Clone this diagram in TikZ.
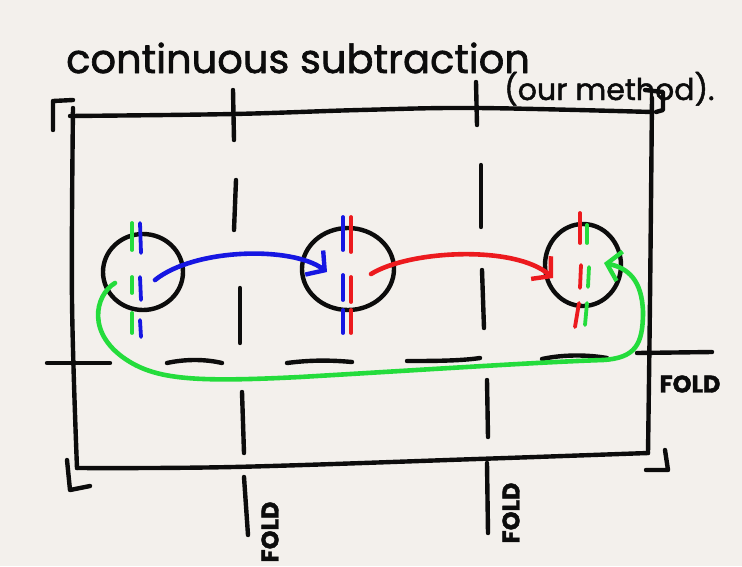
\documentclass[tikz,border=0pt]{standalone}
\usepackage{fontspec}
\setmainfont{Poppins}
\newfontfamily\hand{Poppins}[FakeBold=1.6]
\usetikzlibrary{arrows.meta,shapes.geometric}
\definecolor{paper}{HTML}{F3F0EC}
\definecolor{ink}{HTML}{0C0C0C}
\definecolor{inkblue}{HTML}{1616E2}
\definecolor{inkred}{HTML}{EC1A1E}
\definecolor{inkgreen}{HTML}{24DC3C}
\begin{document}
\begin{tikzpicture}[x=1pt,y=-1pt,line cap=round,line join=round,
  pen/.style={draw=ink,line width=4.4pt},
  cpen/.style={line width=3.8pt},
  ring/.style={ellipse,draw=ink,line width=4.4pt,inner sep=0pt},
  barb/.style={-{Straight Barb[length=13pt,width=30pt,line width=4.4pt]}},
  label/.style={text=ink,inner sep=0pt},
  foldlbl/.style={text=ink,inner sep=0pt,font=\hand\fontsize{24}{26}\selectfont\bfseries}]
\fill[paper] (0,0) rectangle (742,566);
\useasboundingbox (0,0) rectangle (742,566);

% titles
\node[label,anchor=base west,font=\hand\fontsize{40}{44}\selectfont] (title) at (66,73) {continuous subtraction};
\node[label,anchor=base west,font=\hand\fontsize{30}{34}\selectfont] (sub) at (504,100) {(our method).};

% sheet
\draw[pen] plot[smooth,tension=0.6] coordinates {(70,116) (233,114) (360,110) (477,108) (652,112)};
\draw[pen] plot[smooth,tension=0.6] coordinates {(73,108) (72,300) (77,468)};
\draw[pen] plot[smooth,tension=0.6] coordinates {(77,468) (233,467) (477,459) (648,453)};
\draw[pen] plot[smooth,tension=0.6] coordinates {(652,98) (650,300) (648,453)};
% corner marks
\draw[pen] (53,130) -- (53,101) -- (73,100);
\draw[pen] (645,90) -- (663,92) -- (663,110) -- (656,112);
\draw[pen] (67,460) -- (70,490) -- (90,486);
\draw[pen] (665,450) -- (668,470) -- (646,470);

% vertical folds
\draw[pen] (233,90) -- (234,140);
\draw[pen] (236,180) -- (234,230);
\draw[pen] (240,288) -- (240,343);
\draw[pen] (242,392) -- (244,453);
\draw[pen] (244,477) -- (248,535);
\draw[pen] (476,82) -- (477,125);
\draw[pen] (481,165) -- (481,227);
\draw[pen] (482,270) -- (484,328);
\draw[pen] (487,380) -- (488,437);
\draw[pen] (487,463) -- (488,533);
% horizontal fold
\draw[pen] (47,363) -- (110,363);
\draw[pen] (167,363) .. controls (185,359) and (205,359) .. (222,363);
\draw[pen] (287,363) .. controls (310,360) and (330,360) .. (352,362);
\draw[pen] (407,361) .. controls (430,361) and (460,361) .. (480,358);
\draw[pen] (542,359) .. controls (565,354) and (590,355) .. (607,358);
\draw[pen] (637,353) -- (712,352);

% fold labels
\node[foldlbl] (foldh) at (690,384) {FOLD};
\node[foldlbl,rotate=90] (foldl) at (270,532) {FOLD};
\node[foldlbl,rotate=90] (foldr) at (511,513) {FOLD};

% circles
\node[ring,minimum width=80pt,minimum height=76pt] (c1) at (143,272) {};
\node[ring,minimum width=92pt,minimum height=82pt] (c2) at (348,269) {};
\node[ring,minimum width=76pt,minimum height=82pt] (c3) at (583,265) {};

% coloured dashed axes
\foreach \a/\b in {223/250,277/293,313/333}
  \draw[cpen,inkgreen] (132,\a) -- (132,\b);
\foreach \a/\b in {223/253,277/300,320/337}
  \draw[cpen,inkblue] (140,\a) -- (141,\b);
\foreach \a/\b in {217/250,275/300,310/333}
  \draw[cpen,inkblue] (343,\a) -- (343,\b);
\foreach \a/\b in {217/252,277/302,310/333}
  \draw[cpen,inkred] (351,\a) -- (351,\b);
\draw[cpen,inkred] (580,213) -- (580,243);
\draw[cpen,inkred] (581,265) -- (580,288);
\draw[cpen,inkred] (579,303) -- (575,327);
\draw[cpen,inkgreen] (587,225) -- (587,243);
\draw[cpen,inkgreen] (589,267) -- (588,287);
\draw[cpen,inkgreen] (587,303) -- (585,325);

% connectors
\coordinate (s1) at (155,280);
\coordinate (t1) at (327,272);
\coordinate (s2) at (371,274);
\coordinate (t2) at (553,278);
\coordinate (s3) at (115,283);
\coordinate (t3) at (604,263);
\draw[inkblue,line width=4.6pt,barb] (s1) .. controls (195,248) and (292,246) .. (t1);
\draw[inkred,line width=4.6pt,barb] (s2) .. controls (410,250) and (515,245) .. (t2);
\draw[inkgreen,line width=4.6pt,barb] (s3) .. controls (95,295) and (85,335) .. (130,362)
   .. controls (160,380) and (200,382) .. (300,377)
   .. controls (420,370) and (540,362) .. (603,360)
   .. controls (635,358) and (643,345) .. (643,312)
   .. controls (642,280) and (628,268) .. (t3);
\end{tikzpicture}
\end{document}
